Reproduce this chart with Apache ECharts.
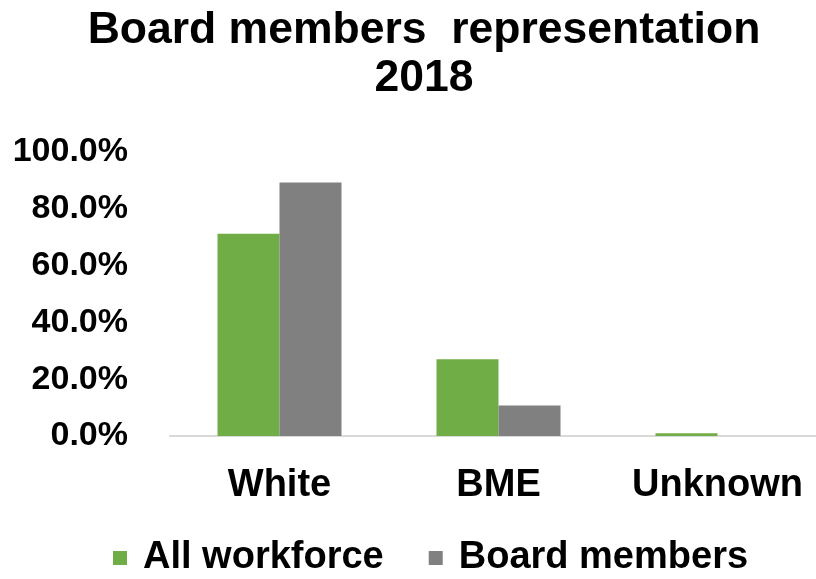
<!DOCTYPE html>
<html>
<head>
<meta charset="utf-8">
<title>Board members representation 2018</title>
<script src="https://cdn.jsdelivr.net/npm/echarts@6/dist/echarts.min.js"></script>
<style>
  html, body { margin: 0; padding: 0; background: #ffffff; }
  #chart { width: 816px; height: 579px; }
</style>
</head>
<body>
<div id="chart"></div>
<script>
// Ethnic group categories shown along the x axis
const categories = ['White', 'BME', 'Unknown'];
// Share of the whole workforce in each group (%)
const allWorkforce = [71.2, 27.0, 1.0];
// Share of board members in each group (%)
const boardMembers = [89.3, 10.7, 0];
// Value axis range and step (%)
const yMin = 0;
const yMax = 100;
const yStep = 20;

const FONT = '"Liberation Sans", Arial, sans-serif';

const chart = echarts.init(document.getElementById('chart'), null, { renderer: 'canvas' });

chart.setOption({
  animation: false,
  backgroundColor: '#ffffff',
  title: {
    text: 'Board members  representation\n2018',
    left: 424,
    top: 7,
    textAlign: 'center',
    padding: 0,
    textStyle: {
      fontFamily: FONT,
      fontWeight: 'bold',
      fontSize: 44.5,
      lineHeight: 48,
      color: '#000000'
    }
  },
  legend: {
    top: 539,
    left: 113,
    padding: 0,
    itemWidth: 14,
    itemHeight: 14,
    itemGap: 45,
    icon: 'rect',
    textStyle: {
      fontFamily: FONT,
      fontWeight: 'bold',
      fontSize: 38,
      color: '#000000',
      padding: [0, 0, 0, 11]
    },
    data: ['All workforce', 'Board members']
  },
  grid: {
    left: 170,
    top: 152,
    width: 657,
    bottom: 143,
    outerBoundsMode: 'none',
    containLabel: false
  },
  xAxis: {
    type: 'category',
    data: categories,
    axisTick: { show: false },
    axisLine: { show: true, lineStyle: { color: '#d9d9d9', width: 2 } },
    axisLabel: {
      interval: 0,
      margin: 31,
      fontFamily: FONT,
      fontWeight: 'bold',
      fontSize: 38,
      color: '#000000'
    },
    splitLine: { show: false }
  },
  yAxis: {
    type: 'value',
    min: yMin,
    max: yMax,
    interval: yStep,
    axisLine: { show: false },
    axisTick: { show: false },
    splitLine: { show: false },
    axisLabel: {
      margin: 42,
      fontFamily: FONT,
      fontWeight: 'bold',
      fontSize: 34,
      color: '#000000',
      formatter: v => v.toFixed(1) + '%'
    }
  },
  series: [
    {
      name: 'All workforce',
      type: 'bar',
      data: allWorkforce,
      barWidth: 62,
      barGap: '0%',
      itemStyle: { color: '#70ad47' }
    },
    {
      name: 'Board members',
      type: 'bar',
      data: boardMembers,
      barWidth: 62,
      barGap: '0%',
      itemStyle: { color: '#808080' }
    }
  ]
});
</script>
</body>
</html>
